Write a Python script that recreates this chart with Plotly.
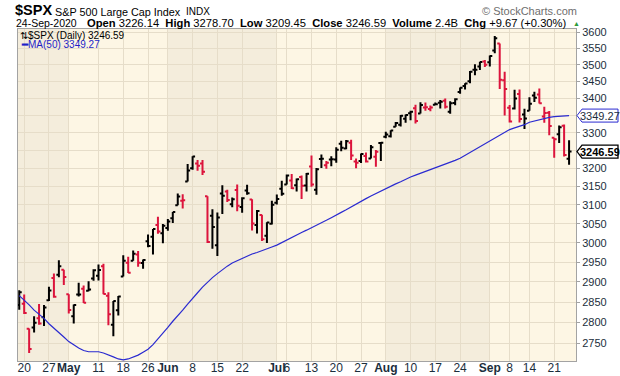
import math
import plotly.graph_objects as go

dates = [
    "2020-04-17", "2020-04-20", "2020-04-21", "2020-04-22", "2020-04-23", "2020-04-24",
    "2020-04-27", "2020-04-28", "2020-04-29", "2020-04-30", "2020-05-01",
    "2020-05-04", "2020-05-05", "2020-05-06", "2020-05-07", "2020-05-08",
    "2020-05-11", "2020-05-12", "2020-05-13", "2020-05-14", "2020-05-15",
    "2020-05-18", "2020-05-19", "2020-05-20", "2020-05-21", "2020-05-22",
    "2020-05-26", "2020-05-27", "2020-05-28", "2020-05-29",
    "2020-06-01", "2020-06-02", "2020-06-03", "2020-06-04", "2020-06-05",
    "2020-06-08", "2020-06-09", "2020-06-10", "2020-06-11", "2020-06-12",
    "2020-06-15", "2020-06-16", "2020-06-17", "2020-06-18", "2020-06-19",
    "2020-06-22", "2020-06-23", "2020-06-24", "2020-06-25", "2020-06-26",
    "2020-06-29", "2020-06-30", "2020-07-01", "2020-07-02",
    "2020-07-06", "2020-07-07", "2020-07-08", "2020-07-09", "2020-07-10",
    "2020-07-13", "2020-07-14", "2020-07-15", "2020-07-16", "2020-07-17",
    "2020-07-20", "2020-07-21", "2020-07-22", "2020-07-23", "2020-07-24",
    "2020-07-27", "2020-07-28", "2020-07-29", "2020-07-30", "2020-07-31",
    "2020-08-03", "2020-08-04", "2020-08-05", "2020-08-06", "2020-08-07",
    "2020-08-10", "2020-08-11", "2020-08-12", "2020-08-13", "2020-08-14",
    "2020-08-17", "2020-08-18", "2020-08-19", "2020-08-20", "2020-08-21",
    "2020-08-24", "2020-08-25", "2020-08-26", "2020-08-27", "2020-08-28",
    "2020-08-31", "2020-09-01", "2020-09-02", "2020-09-03", "2020-09-04",
    "2020-09-08", "2020-09-09", "2020-09-10", "2020-09-11",
    "2020-09-14", "2020-09-15", "2020-09-16", "2020-09-17", "2020-09-18",
    "2020-09-21", "2020-09-22", "2020-09-23", "2020-09-24",
]

opens = [
    2842.43, 2845.62, 2784.81, 2787.89, 2810.42, 2812.64, 2854.65, 2909.96, 2918.46, 2930.91, 2869.09,
    2815.01, 2868.88, 2883.14, 2878.26, 2908.83, 2915.46, 2939.50, 2865.86, 2794.54, 2829.95,
    2913.86, 2948.59, 2953.63, 2969.95, 2948.05, 3004.08, 3015.65, 3046.61, 3025.17,
    3038.78, 3064.78, 3098.90, 3111.56, 3163.84, 3199.92, 3213.32, 3213.42, 3123.53, 3071.04,
    2993.76, 3131.00, 3136.13, 3101.64, 3140.29, 3094.42, 3138.70, 3114.40, 3046.60, 3073.20,
    3018.59, 3050.20, 3105.92, 3143.64, 3155.29, 3166.44, 3153.07, 3176.17, 3152.47,
    3205.08, 3141.11, 3225.98, 3208.36, 3224.21, 3224.29, 3268.52, 3254.86, 3271.64, 3218.58,
    3219.84, 3234.27, 3227.22, 3231.76, 3270.45, 3288.26, 3289.92, 3317.37, 3323.17, 3340.05,
    3356.04, 3370.34, 3355.46, 3372.95, 3368.66, 3380.86, 3387.04, 3392.51, 3360.48, 3386.01,
    3418.09, 3435.95, 3449.97, 3485.14, 3494.69, 3509.73, 3507.44, 3543.76, 3564.74, 3453.60,
    3371.88, 3369.82, 3412.56, 3352.70, 3363.56, 3407.73, 3411.23, 3346.86, 3357.38,
    3285.57, 3295.75, 3320.11, 3226.14,
]

highs = [
    2879.22, 2868.98, 2785.54, 2815.10, 2844.90, 2842.71, 2887.72, 2921.15, 2954.86, 2930.91, 2869.09,
    2844.24, 2898.23, 2891.11, 2901.92, 2932.16, 2944.25, 2945.82, 2874.14, 2852.80, 2865.01,
    2968.09, 2964.21, 2980.29, 2978.50, 2956.76, 3021.72, 3036.25, 3068.67, 3049.17,
    3062.18, 3081.07, 3130.94, 3128.91, 3211.72, 3233.13, 3222.71, 3223.27, 3123.53, 3088.42,
    3079.76, 3153.45, 3141.16, 3120.00, 3155.53, 3120.92, 3154.90, 3115.01, 3086.25, 3073.73,
    3053.89, 3111.51, 3128.44, 3165.81, 3182.59, 3184.15, 3171.80, 3179.78, 3186.82,
    3235.32, 3200.95, 3238.28, 3220.39, 3233.52, 3258.61, 3277.29, 3279.32, 3279.99, 3227.26,
    3241.43, 3243.72, 3264.74, 3250.92, 3272.17, 3302.73, 3306.84, 3330.77, 3351.03, 3352.54,
    3363.29, 3381.01, 3387.89, 3387.24, 3378.51, 3387.59, 3395.06, 3399.54, 3390.80, 3399.96,
    3432.09, 3444.21, 3481.07, 3501.38, 3509.23, 3514.77, 3528.03, 3588.11, 3564.85, 3479.15,
    3379.97, 3424.77, 3425.55, 3368.95, 3402.93, 3419.48, 3428.92, 3375.17, 3362.27,
    3285.57, 3320.31, 3323.35, 3278.70,
]

lows = [
    2830.88, 2820.43, 2727.10, 2775.95, 2794.26, 2791.76, 2852.89, 2860.71, 2912.16, 2892.47, 2821.61,
    2797.85, 2863.55, 2847.65, 2876.48, 2902.88, 2903.44, 2869.59, 2793.15, 2766.64, 2816.78,
    2913.86, 2922.35, 2953.63, 2938.57, 2933.59, 2988.17, 2969.75, 3023.40, 2998.61,
    3031.54, 3051.64, 3098.90, 3090.41, 3163.84, 3196.00, 3193.11, 3181.49, 2999.49, 2984.47,
    2965.66, 3076.06, 3108.03, 3093.51, 3083.11, 3079.39, 3127.12, 3032.13, 3024.01, 3004.63,
    2999.74, 3047.83, 3101.17, 3124.52, 3155.29, 3142.93, 3136.53, 3115.70, 3136.22,
    3149.43, 3127.66, 3200.76, 3198.59, 3205.65, 3215.16, 3247.77, 3253.10, 3222.66, 3200.05,
    3214.25, 3216.17, 3227.22, 3204.13, 3220.26, 3284.53, 3286.37, 3317.37, 3318.14, 3328.72,
    3335.44, 3326.44, 3355.46, 3363.35, 3361.64, 3379.22, 3370.15, 3369.66, 3354.69, 3379.31,
    3413.13, 3425.84, 3444.15, 3468.35, 3484.32, 3493.25, 3494.60, 3535.23, 3427.41, 3349.63,
    3329.27, 3366.84, 3329.25, 3310.47, 3363.56, 3389.25, 3384.45, 3328.82, 3292.40,
    3229.10, 3270.95, 3232.57, 3209.45,
]

closes = [
    2874.56, 2823.16, 2736.56, 2799.31, 2797.80, 2836.74, 2878.48, 2863.39, 2939.51, 2912.43, 2830.71,
    2842.74, 2868.44, 2848.42, 2881.19, 2929.80, 2930.32, 2870.12, 2820.00, 2852.50, 2863.70,
    2953.91, 2922.94, 2971.61, 2948.51, 2955.45, 2991.77, 3036.13, 3029.73, 3044.31,
    3055.73, 3080.82, 3122.87, 3112.35, 3193.93, 3232.39, 3207.18, 3190.14, 3002.10, 3041.31,
    3066.59, 3124.74, 3113.49, 3115.34, 3097.74, 3117.86, 3131.29, 3050.33, 3083.76, 3009.05,
    3053.24, 3100.29, 3115.86, 3130.01, 3179.72, 3145.32, 3169.94, 3152.05, 3185.04,
    3155.22, 3197.52, 3226.56, 3215.57, 3224.73, 3251.84, 3257.30, 3276.02, 3235.66, 3215.63,
    3239.41, 3218.44, 3258.44, 3246.22, 3271.12, 3294.61, 3306.51, 3327.77, 3349.16, 3351.28,
    3360.47, 3333.69, 3380.35, 3373.43, 3372.85, 3381.99, 3389.78, 3374.85, 3385.51, 3397.16,
    3431.28, 3443.62, 3478.73, 3484.55, 3508.01, 3500.31, 3526.65, 3580.84, 3455.06, 3426.96,
    3331.84, 3398.96, 3339.19, 3340.97, 3383.54, 3401.20, 3385.49, 3357.01, 3319.47,
    3281.06, 3315.57, 3236.92, 3246.59,
]

# 50-day moving average
ma50 = [
    2866, 2855, 2843, 2830, 2820, 2810, 2797, 2787, 2776, 2765, 2754,
    2746, 2739, 2733, 2730, 2730, 2730, 2727, 2723, 2718, 2713,
    2711, 2713, 2718, 2722, 2729, 2736, 2747, 2760, 2774,
    2788, 2803, 2816, 2830, 2845, 2860, 2873, 2887, 2900, 2911,
    2921, 2931, 2940, 2948, 2954, 2959, 2966, 2971, 2975, 2979,
    2984, 2989, 2994, 3001, 3008, 3014, 3021, 3027, 3033,
    3039, 3046, 3052, 3059, 3066, 3074, 3080, 3087, 3095, 3103,
    3110, 3117, 3124, 3131, 3138, 3145, 3151, 3157, 3163, 3170,
    3176, 3181, 3186, 3191, 3196, 3201, 3205, 3211, 3216, 3222,
    3228, 3236, 3244, 3252, 3260, 3268, 3277, 3285, 3293, 3300,
    3309, 3314, 3318, 3323, 3330, 3334, 3338, 3341, 3344,
    3346, 3347, 3348, 3349.27,
]

prev_close = 2799.55  # close before the first bar (for bar colouring)

tick_dates = ["2020-04-20", "2020-04-27", "2020-05-01", "2020-05-11", "2020-05-18", "2020-05-26",
              "2020-06-01", "2020-06-08", "2020-06-15", "2020-06-22", "2020-07-01", "2020-07-06",
              "2020-07-13", "2020-07-20", "2020-07-27", "2020-08-03", "2020-08-10", "2020-08-17",
              "2020-08-24", "2020-09-01", "2020-09-08", "2020-09-14", "2020-09-21"]
tick_labels = ["20", "27", "May", "11", "18", "26", "Jun", "8", "15", "22", "Jul", "6",
               "13", "20", "27", "Aug", "10", "17", "24", "Sep", "8", "14", "21"]
month_starts = ["2020-05-01", "2020-06-01", "2020-07-01", "2020-08-03", "2020-09-01"]
y_ticks = [2750, 2800, 2850, 2900, 2950, 3000, 3050, 3100, 3150, 3200, 3250,
           3300, 3350, 3400, 3450, 3500, 3550, 3600]
y_hidden = [3250, 3350]  # labels covered by the price flags

UP = "#000000"
DOWN = "#dc143c"
LIGHT_BG = "#fdf6e4"
DARK_BG = "#f4eddc"
GRID = "#e6ddc9"
AXIS_TXT = "#1b2e3c"
FONT = "Liberation Sans, Arial, sans-serif"

# split bars by close vs previous close
up_idx, dn_idx = [], []
pc = prev_close
for i, c in enumerate(closes):
    (up_idx if c >= pc else dn_idx).append(i)
    pc = c

def sub(lst, idx):
    return [lst[i] for i in idx]

fig = go.Figure()
for idx, col in ((up_idx, UP), (dn_idx, DOWN)):
    fig.add_trace(go.Ohlc(
        x=sub(dates, idx), open=sub(opens, idx), high=sub(highs, idx),
        low=sub(lows, idx), close=sub(closes, idx),
        increasing=dict(line=dict(color=col, width=2)),
        decreasing=dict(line=dict(color=col, width=2)),
        tickwidth=0.5, showlegend=False, hoverinfo="skip"))

fig.add_trace(go.Scatter(x=dates, y=ma50, mode="lines",
                         line=dict(color="#2a2ad0", width=1.2),
                         showlegend=False, hoverinfo="skip"))

ylo = math.log10(2708.2)
yhi = math.log10(3610.0)

# plot area in pixels
L, R, T, B = 18, 576, 29, 361
W, H = R - L, B - T

def px(x):
    return (x - L) / W

def py(y):
    return (B - y) / H

def vy(v):
    return (math.log10(v) - ylo) / (yhi - ylo)

shapes = []
# alternating month shading
bounds = [-1] + [dates.index(d) for d in month_starts] + [len(dates) + 2]
for k in range(len(bounds) - 1):
    if k % 2 == 0:
        shapes.append(dict(type="rect", xref="x", yref="paper", x0=bounds[k], x1=bounds[k + 1],
                           y0=0, y1=1, fillcolor=DARK_BG, line=dict(width=0), layer="below"))

# price flags on right axis
def flag(v, color, width):
    yc = vy(v)
    hh = 6.5 / H
    x0, x1, x2 = 1.0 + 1 / W, 1.0 + 6 / W, 1.0 + 42 / W
    path = (f"M {x0},{yc} L {x1},{yc + hh} L {x2},{yc + hh} L {x2},{yc - hh} "
            f"L {x1},{yc - hh} Z")
    return dict(type="path", xref="paper", yref="paper", path=path,
                fillcolor="white", line=dict(color=color, width=width), layer="above")

shapes.append(flag(ma50[-1], "#2a2ad0", 1))
shapes.append(flag(closes[-1], "#000000", 1.3))

ann = []
def text(x, y, s, size, color="#000000", anchor="left", bold=False):
    ann.append(dict(xref="paper", yref="paper", x=px(x), y=py(y), text=(f"<b>{s}</b>" if bold else s),
                    showarrow=False, xanchor=anchor, yanchor="middle",
                    font=dict(family=FONT, size=size, color=color)))

text(13, 10.5, "$SPX", 14.5, bold=True)
text(53, 11.5, "S&P 500 Large Cap Index", 10.8)
text(184, 11.5, "INDX", 10)
text(579, 11, "© StockCharts.com", 11, color="#6e6e6e", anchor="right")
text(14, 23, "24-Sep-2020", 10.5)
ann.append(dict(xref="paper", yref="paper", x=px(569), y=py(23), showarrow=False,
                xanchor="right", yanchor="middle", font=dict(family=FONT, size=11.2, color="#000000"),
                text="<b>Open</b> 3226.14  <b>High</b> 3278.70  <b>Low</b> 3209.45  "
                     "<b>Close</b> 3246.59  <b>Volume</b> 2.4B  <b>Chg</b> +9.67 (+0.30%)"))
text(571, 23, "▲", 7, color="#2f9a3a")

# legend
text(18, 35, f"⇅$SPX (Daily) {closes[-1]:.2f}", 10)
text(19, 44.5, f"<b>━</b>MA(50) {ma50[-1]:.2f}", 10, color="#1f1fc8")

# flag texts
ann.append(dict(xref="paper", yref="paper", x=1.0 + 24 / W, y=vy(ma50[-1]), showarrow=False,
                xanchor="center", yanchor="middle", text=f"{ma50[-1]:.2f}",
                font=dict(family=FONT, size=11, color=AXIS_TXT)))
ann.append(dict(xref="paper", yref="paper", x=1.0 + 24 / W, y=vy(closes[-1]), showarrow=False,
                xanchor="center", yanchor="middle", text=f"<b>{closes[-1]:.2f}</b>",
                font=dict(family=FONT, size=11, color="#000000")))

ticktext = [f"<b>{t}</b>" if t.isalpha() else t for t in tick_labels]

fig.update_layout(
    width=620, height=376,
    margin=dict(l=L, r=620 - R, t=T, b=376 - B, autoexpand=False),
    paper_bgcolor="white", plot_bgcolor=LIGHT_BG,
    shapes=shapes, annotations=ann,
    font=dict(family=FONT, color=AXIS_TXT),
    xaxis=dict(type="category", categoryorder="array", categoryarray=dates,
               range=[-0.25, 112.4], tickmode="array", tickvals=tick_dates, ticktext=ticktext,
               tickangle=0, showgrid=True, gridcolor=GRID, gridwidth=1,
               ticks="", tickfont=dict(size=12, color=AXIS_TXT, family=FONT),
               ticklabelstandoff=-4,
               showline=True, linecolor="#a3a3a3", linewidth=1, mirror=True,
               rangeslider=dict(visible=False), fixedrange=True, automargin=False),
    yaxis=dict(type="log", side="right", range=[ylo, yhi], tickmode="array",
               tickvals=y_ticks, ticktext=["" if v in y_hidden else str(v) for v in y_ticks],
               showgrid=True, gridcolor=GRID, gridwidth=1,
               ticks="outside", ticklen=3, tickcolor="#a3a3a3",
               tickfont=dict(size=11, color=AXIS_TXT, family=FONT),
               showline=True, linecolor="#a3a3a3", linewidth=1, mirror=True,
               zeroline=False, fixedrange=True, automargin=False),
)

fig.write_html("out.html", config={"displayModeBar": False},
               post_script="document.body.style.margin='0px';")
